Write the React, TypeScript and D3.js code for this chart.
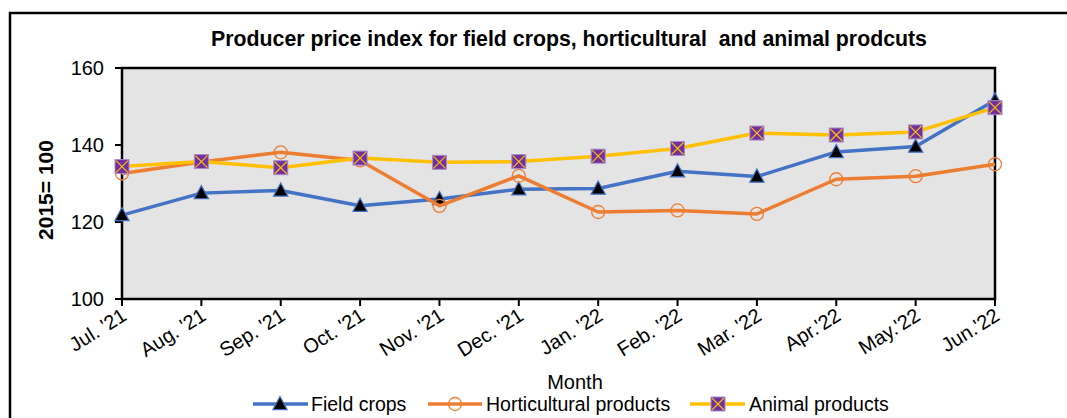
import React from "react";
import * as d3 from "d3";

const months = ["Jul. '21", "Aug. '21", "Sep. '21", "Oct. '21", "Nov. '21", "Dec. '21", "Jan. '22", "Feb. '22", "Mar. '22", "Apr.'22", "May.'22", "Jun.'22"];
const fieldCrops = [121.8, 127.5, 128.2, 124.2, 126.0, 128.5, 128.7, 133.2, 131.8, 138.2, 139.6, 151.6];
const horticultural = [132.6, 135.6, 138.1, 136.0, 124.2, 132.0, 122.6, 123.0, 122.1, 131.1, 131.9, 135.0];
const animal = [134.4, 135.7, 134.1, 136.6, 135.5, 135.7, 137.1, 139.1, 143.1, 142.6, 143.4, 149.7];
const yTicks = [100, 120, 140, 160];

const W = 1067, H = 418;
const L = 122, R = 995, T = 68, B = 299;
const FONT = "Arial, 'Liberation Sans', sans-serif";

const BLUE = "#4472C4", ORANGE = "#ED7D31", YELLOW = "#FFC000", PURPLE = "#7030A0";

function Triangle({ x, y }: { x: number; y: number }) {
  const s = 7.5;
  return <path d={`M${x},${y - s}L${x + s * 0.95},${y + s * 0.75}L${x - s * 0.95},${y + s * 0.75}Z`} fill="#000" stroke={BLUE} strokeWidth={1.2} />;
}
function Circle({ x, y }: { x: number; y: number }) {
  return <circle cx={x} cy={y} r={6.5} fill="none" stroke={ORANGE} strokeWidth={1.3} />;
}
function Square({ x, y }: { x: number; y: number }) {
  const s = 7;
  return (
    <g>
      <rect x={x - s} y={y - s} width={2 * s} height={2 * s} fill={PURPLE} stroke="#A88BC8" strokeWidth={1} />
      <path d={`M${x - s + 1},${y - s + 1}L${x + s - 1},${y + s - 1}M${x + s - 1},${y - s + 1}L${x - s + 1},${y + s - 1}`} stroke={YELLOW} strokeWidth={1.2} />
    </g>
  );
}

export default function App() {
  const x = d3.scalePoint<string>().domain(months).range([L, R]);
  const y = d3.scaleLinear().domain([100, 160]).range([B, T]);
  const line = d3.line<number>().x((_, i) => x(months[i])!).y((d) => y(d));

  const series = [
    { name: "Field crops", data: fieldCrops, color: BLUE, M: Triangle },
    { name: "Horticultural products", data: horticultural, color: ORANGE, M: Circle },
    { name: "Animal products", data: animal, color: YELLOW, M: Square },
  ];
  const legendPos = [
    { lx1: 253, lx2: 308, mx: 280, tx: 311 },
    { lx1: 428, lx2: 482, mx: 455, tx: 486 },
    { lx1: 690, lx2: 745, mx: 718, tx: 749 },
  ];
  const ly = 404;

  return (
    <svg width={W} height={H} style={{ position: "absolute", left: 0, top: 0, fontFamily: FONT }}>
      <rect x={0} y={0} width={W} height={H} fill="#fff" />
      <rect x={10} y={13} width={1100} height={450} fill="#fff" stroke="#000" strokeWidth={2.5} />
      <text x={569} y={46} textAnchor="middle" fontSize={21.3} fontWeight="bold" style={{ whiteSpace: "pre" }}>
        Producer price index for field crops, horticultural  and animal prodcuts
      </text>
      <rect x={L} y={T} width={R - L} height={B - T} fill="#E4E4E4" stroke="#000" strokeWidth={2.5} />
      {yTicks.map((t) => (
        <g key={t}>
          <line x1={L - 7} x2={L} y1={y(t)} y2={y(t)} stroke="#000" strokeWidth={2} />
          <text x={104} y={y(t) + 7} textAnchor="end" fontSize={20}>{t}</text>
        </g>
      ))}
      {months.map((m) => (
        <g key={m}>
          <line x1={x(m)} x2={x(m)} y1={B} y2={B + 7} stroke="#000" strokeWidth={2} />
          <text transform={`translate(${x(m)! + 6},${B + 20}) rotate(-32)`} textAnchor="end" fontSize={20}>{m}</text>
        </g>
      ))}
      <text transform={`translate(53,190) rotate(-90)`} textAnchor="middle" fontSize={21} fontWeight="bold">2015= 100</text>
      <text x={575} y={389} textAnchor="middle" fontSize={20}>Month</text>
      {series.map((s) => (
        <g key={s.name}>
          <path d={line(s.data)!} fill="none" stroke={s.color} strokeWidth={3.5} strokeLinejoin="round" />
          {s.data.map((v, i) => <s.M key={i} x={x(months[i])!} y={y(v)} />)}
        </g>
      ))}
      {series.map((s, i) => {
        const p = legendPos[i];
        return (
          <g key={s.name}>
            <line x1={p.lx1} x2={p.lx2} y1={ly} y2={ly} stroke={s.color} strokeWidth={3.5} />
            <s.M x={p.mx} y={ly} />
            <text x={p.tx} y={ly + 7} fontSize={19.5}>{s.name}</text>
          </g>
        );
      })}
    </svg>
  );
}
